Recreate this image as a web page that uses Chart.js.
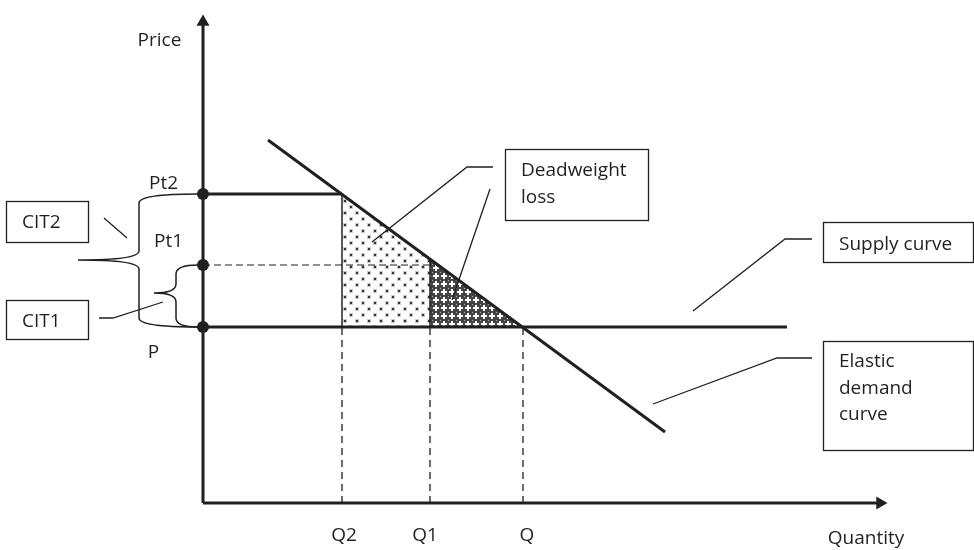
<!DOCTYPE html>
<html>
<head>
<meta charset="utf-8">
<script src="https://cdn.jsdelivr.net/npm/chart.js@4.4.0/dist/chart.umd.min.js"></script>
<style>
  body { margin: 0; background: #fff; }
  #wrap { width: 974px; height: 550px; }
</style>
</head>
<body>
<div id="wrap"><canvas id="chart"></canvas></div>
<script>
// Values (abstract units, origin at the axes corner)
const qtyLabels = ["Q2", "Q1", "Q"];
const qtyValues = [13.9, 22.7, 32.0];
const priceLabels = ["Pt2", "Pt1", "P"];
const priceValues = [30.9, 23.8, 17.6];
const demandQ = [6.5, 46.2];
const demandP = [36.3, 7.1];
const demandAtQ1 = 24.4;
const supplyEnd = 58.4;
const axisEnd = { x: 67.7, y: 48.1 };

const [Q2, Q1, Q] = qtyValues;
const [Pt2, Pt1, P] = priceValues;
const ink = "#231f20";
const font = '19px "Open Sans", sans-serif';

// Annotation layout (boxes, callouts, braces, labels)
const boxes = [
  { x0: -19.7, y0: 30.2, x1: -11.5, y1: 26.1, lines: ["CIT2"], tx: -18.1, ty: 28.0 },
  { x0: -19.7, y0: 20.3, x1: -11.5, y1: 16.4, lines: ["CIT1"], tx: -18.1, ty: 18.1 },
  { x0: 30.2, y0: 35.4, x1: 44.5, y1: 28.3, lines: ["Deadweight", "loss"], tx: 31.8, ty: 33.2 },
  { x0: 62.0, y0: 28.1, x1: 77.0, y1: 24.1, lines: ["Supply curve"], tx: 63.6, ty: 25.8 },
  { x0: 62.0, y0: 16.2, x1: 77.0, y1: 5.3, lines: ["Elastic", "demand", "curve"], tx: 63.6, ty: 14.1 },
];
const leaders = [
  [[-9.9, 28.5], [-7.6, 26.5]],
  [[-10.4, 18.5], [-9.0, 18.5], [-4.0, 20.1]],
  [[16.9, 26.1], [26.4, 33.6], [29.0, 33.6]],
  [[24.9, 20.3], [28.7, 31.4]],
  [[49.0, 19.2], [58.2, 26.4], [60.9, 26.4]],
  [[45.0, 9.9], [57.4, 14.5], [60.9, 14.5]],
];
const braces = [
  { xEnd: -0.5, xVert: -6.4, xTip: -12.5, yTop: Pt2, yMid: 24.3, yBot: P },
  { xEnd: -0.5, xVert: -2.7, xTip: -4.9, yTop: Pt1, yMid: 21.0, yBot: P },
];
const labels = [
  { text: "Price", x: -4.35, y: 46.2 },
  { text: priceLabels[0], x: -3.95, y: 31.9 },
  { text: priceLabels[1], x: -3.45, y: 26.1 },
  { text: priceLabels[2], x: -4.95, y: 15.05 },
  { text: qtyLabels[0], x: Q2 + 0.2, y: -3.3 },
  { text: qtyLabels[1], x: Q1 - 0.5, y: -3.3 },
  { text: qtyLabels[2], x: Q + 0.4, y: -3.3 },
  { text: "Quantity", x: 66.3, y: -3.6 },
];

function makePattern(dark) {
  const c = document.createElement("canvas");
  const g = c.getContext("2d");
  if (!dark) {
    c.width = 12; c.height = 12;
    g.fillStyle = "#fff"; g.fillRect(0, 0, 12, 12);
    g.fillStyle = "#c8c8c8"; g.fillRect(1, 1, 4, 4); g.fillRect(7, 7, 4, 4);
    g.fillStyle = "#333"; g.fillRect(2, 2, 2, 2); g.fillRect(8, 8, 2, 2);
  } else {
    c.width = 8; c.height = 8;
    g.fillStyle = "#444"; g.fillRect(0, 0, 8, 8);
    g.fillStyle = "#fff"; g.fillRect(3, 1, 2, 6); g.fillRect(1, 3, 6, 2);
    g.fillStyle = "#aaa"; g.fillRect(0, 0, 1, 1);
  }
  return g.createPattern(c, "repeat");
}

function seg(points, extra) {
  return Object.assign({
    data: points.map(([x, y]) => ({ x, y })),
    borderColor: ink,
    borderWidth: 1.4,
    pointRadius: 0,
    fill: false,
  }, extra);
}

const datasets = [
  // dots on the price axis
  {
    data: priceValues.map(p => ({ x: 0, y: p })),
    showLine: false,
    pointRadius: 6,
    pointBackgroundColor: ink,
    pointBorderWidth: 0,
  },
  // axes with arrow heads
  seg([[0, 0], [axisEnd.x, 0]], { borderWidth: 3, pointRadius: [0, 7.5], pointStyle: "triangle", pointRotation: [0, 90], pointBackgroundColor: ink, pointBorderWidth: 0 }),
  seg([[0, 0], [0, axisEnd.y]], { borderWidth: 3, pointRadius: [0, 7.5], pointStyle: "triangle", pointBackgroundColor: ink, pointBorderWidth: 0 }),
  // supply, demand, taxed price lines
  seg([[0, P], [supplyEnd, P]], { borderWidth: 3 }),
  seg([[demandQ[0], demandP[0]], [demandQ[1], demandP[1]]], { borderWidth: 3 }),
  seg([[0, Pt2], [Q2, Pt2]], { borderWidth: 3 }),
  seg([[0, Pt1], [Q1, Pt1]], { borderWidth: 1.2, borderDash: [7, 4] }),
  seg([[Q2, P], [Q2, Pt2]], { borderWidth: 1.5 }),
  seg([[Q1, P], [Q1, demandAtQ1]], { borderWidth: 1.5 }),
  ...qtyValues.map(q => seg([[q, 0], [q, P]], { borderWidth: 1.3, borderDash: [7, 5] })),
  // deadweight loss shading
  seg([[Q1, demandAtQ1], [Q, P]], { fill: { value: P }, backgroundColor: makePattern(true), borderColor: "transparent" }),
  seg([[Q2, Pt2], [Q1, demandAtQ1]], { fill: { value: P }, backgroundColor: makePattern(false), borderColor: "transparent" }),
];

const notesPlugin = {
  id: "notes",
  afterDatasetsDraw(chart) {
    const { ctx, scales } = chart;
    const X = v => scales.x.getPixelForValue(v);
    const Y = v => scales.y.getPixelForValue(v);
    ctx.save();
    ctx.strokeStyle = ink;
    ctx.fillStyle = ink;
    ctx.lineWidth = 1.3;

    leaders.forEach(pts => {
      ctx.beginPath();
      pts.forEach(([a, b], i) => (i ? ctx.lineTo(X(a), Y(b)) : ctx.moveTo(X(a), Y(b))));
      ctx.stroke();
    });

    ctx.lineWidth = 1.5;
    braces.forEach(b => {
      const xe = X(b.xEnd), xv = X(b.xVert), xt = X(b.xTip);
      const yt = Y(b.yTop), ym = Y(b.yMid), yb = Y(b.yBot);
      const r = 9;
      ctx.beginPath();
      ctx.moveTo(xe, yt);
      ctx.quadraticCurveTo(xv, yt, xv, yt + r);
      ctx.lineTo(xv, ym - r);
      ctx.quadraticCurveTo(xv, ym, xt, ym);
      ctx.quadraticCurveTo(xv, ym, xv, ym + r);
      ctx.lineTo(xv, yb - r);
      ctx.quadraticCurveTo(xv, yb, xe, yb);
      ctx.stroke();
    });

    ctx.font = font;
    ctx.textBaseline = "middle";
    ctx.lineWidth = 1.3;
    boxes.forEach(b => {
      ctx.fillStyle = "#fff";
      ctx.fillRect(X(b.x0), Y(b.y0), X(b.x1) - X(b.x0), Y(b.y1) - Y(b.y0));
      ctx.strokeRect(Math.round(X(b.x0)) + 0.5, Math.round(Y(b.y0)) + 0.5,
        Math.round(X(b.x1) - X(b.x0)), Math.round(Y(b.y1) - Y(b.y0)));
      ctx.fillStyle = ink;
      ctx.textAlign = "left";
      b.lines.forEach((t, i) => ctx.fillText(t, X(b.tx), Y(b.ty) + i * 26.5));
    });

    ctx.textAlign = "center";
    labels.forEach(l => ctx.fillText(l.text, X(l.x), Y(l.y)));
    ctx.restore();
  },
};

new Chart(document.getElementById("chart"), {
  type: "line",
  data: { datasets },
  options: {
    responsive: true,
    maintainAspectRatio: false,
    animation: false,
    events: [],
    layout: { padding: 0, autoPadding: false },
    plugins: { legend: { display: false }, tooltip: { enabled: false } },
    scales: {
      x: { type: "linear", min: -20.3, max: 77.1, display: false },
      y: { type: "linear", min: -4.7, max: 50.3, display: false },
    },
  },
  plugins: [notesPlugin],
});
</script>
</body>
</html>
